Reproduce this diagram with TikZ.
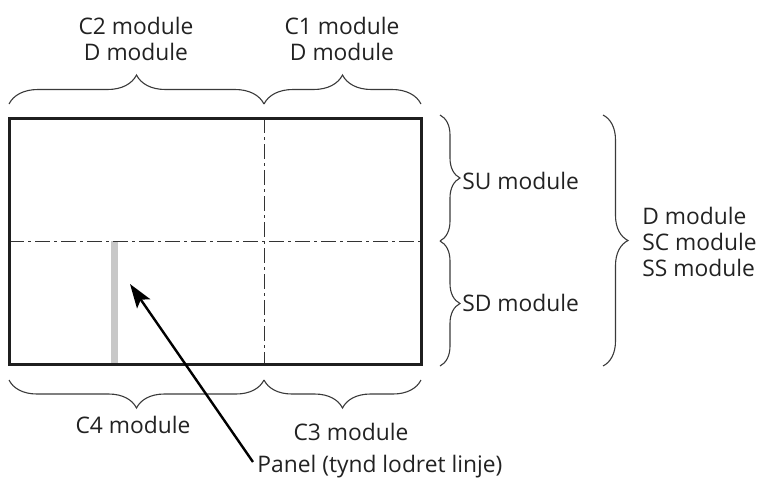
\documentclass[tikz,border=0pt]{standalone}
\usepackage{fontspec}
\setmainfont{Open Sans}
\usetikzlibrary{decorations.pathreplacing,arrows.meta}
\definecolor{txt}{HTML}{222222}
\definecolor{brcgray}{HTML}{3A3A3A}
\definecolor{dashgray}{HTML}{333333}
\definecolor{panelgray}{HTML}{C8C8C8}
\begin{document}
\begin{tikzpicture}[x=0.5pt,y=-0.5pt,
  lbl/.style={font=\fontsize{11.4}{13}\selectfont, text=txt, inner sep=0pt, align=center},
  lbll/.style={font=\fontsize{11.4}{13}\selectfont, text=txt, inner sep=0pt, align=left, anchor=west},
  brc/.style={draw=brcgray, line width=0.55pt, decorate, decoration={brace, amplitude=#1}},
  axisline/.style={draw=dashgray, line width=0.5pt, dash pattern=on 7.5pt off 2pt on 1.5pt off 2pt},
  frame/.style={draw=black!88, line width=1.5pt},
  panelbar/.style={draw=none, fill=panelgray},
  pointer/.style={draw=black, line width=1.2pt, -{Stealth[length=12pt,width=8pt,inset=2.5pt]}},
]
\useasboundingbox (0,0) rectangle (760,478);

% panel (thin vertical line)
\fill[panelbar] (111,241) rectangle (118,364);

% axis lines
\coordinate (vt) at (264,118);
\coordinate (vb) at (264,364);
\coordinate (hl) at (9,241);
\coordinate (hr) at (421,241);
\draw[axisline] (vt) -- (vb);
\draw[axisline] (hl) -- (hr);

% frame
\node[frame, minimum width=206pt, minimum height=123pt, inner sep=0pt] (frm) at (215,241) {};

% top braces
\coordinate (tl) at (9,104);
\coordinate (tm) at (264,104);
\coordinate (tr) at (421,104);
\draw[brc=14.5pt] (tl) -- (tm);
\draw[brc=14.5pt] (tm) -- (tr);

% bottom braces
\coordinate (bl) at (9,380);
\coordinate (bm) at (264,380);
\coordinate (br) at (421,380);
\draw[brc=14pt] (bm) -- (bl);
\draw[brc=14pt] (br) -- (bm);

% right braces
\coordinate (rt) at (440,115);
\coordinate (rm) at (440,241);
\coordinate (rb) at (440,366);
\draw[brc=10pt] (rt) -- (rm);
\draw[brc=10pt] (rm) -- (rb);
\coordinate (Rt) at (603,115);
\coordinate (Rb) at (603,366);
\draw[brc=12.5pt] (Rt) -- (Rb);

% labels
\node[lbl] (c2) at (136,39) {C2 module\\D module};
\node[lbl] (c1) at (342,39) {C1 module\\D module};
\node[lbl] (c4) at (133,425) {C4 module};
\node[lbl] (c3) at (351,432) {C3 module};
\node[lbll] (su) at (462,181) {SU module};
\node[lbll] (sd) at (462,303) {SD module};
\node[lbll] (dss) at (642,242) {D module\\SC module\\SS module};
\node[lbll] (pl) at (257,467) {Panel (tynd lodret linje)};

% pointer
\coordinate (pstart) at (253,462);
\coordinate (ptip) at (130,284);
\draw[pointer] (pstart) -- (ptip);
\end{tikzpicture}
\end{document}
